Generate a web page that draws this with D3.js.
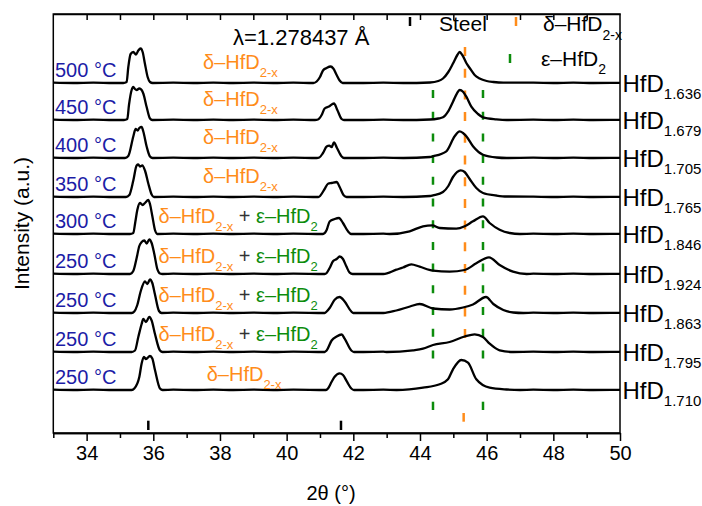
<!DOCTYPE html>
<html><head><meta charset="utf-8">
<script src="https://cdn.jsdelivr.net/npm/d3@7/dist/d3.min.js"></script>
<style>
html,body{margin:0;padding:0;background:#fff;}
svg{display:block;font-family:"Liberation Sans",Arial,sans-serif;}
text{white-space:pre;}
</style></head>
<body><svg id="c" width="702" height="506"></svg>
<script>
// ---------- data ----------
const temps = ["500 °C","450 °C","400 °C","350 °C","300 °C","250 °C","250 °C","250 °C","250 °C"];
const compositions = ["1.636","1.679","1.705","1.765","1.846","1.924","1.863","1.795","1.710"];
const phases = ["d","d","d","d","de","de","de","de","d"];
const offsets = [350, 313, 275, 236, 199, 159, 120, 81, 43];
const xTicksMajor = [34,36,38,40,42,44,46,48,50];
const xTicksMinor = [33,35,37,39,41,43,45,47,49];
const xTicksTop = [34,35,36,37,38,39,40,41,42,43,44,45,46,47,48,49];
const steelRefl = [35.85, 41.63];
const epsRefl = [44.39, 45.89];
const deltaRefl = [45.31];
const epsLines = [44.39, 45.89];
const deltaLines = [45.35];
const baseGrid = [[33,0.3],[33.6,0],[34.2,0.4],[34.8,0],[36.6,0.3],[37.2,0],[37.8,0.4],[38.4,0],[39.0,0.3],[39.6,0],[40.2,0.4],[42.3,0],[42.9,0.3],[43.5,0],[47.4,0.3],[48.0,0],[48.6,0.4],[49.2,0],[50,0.2]];

const t500 = [
 [[35.10,0],[35.20,1],[35.25,16],[35.32,29],[35.40,31],[35.48,28.5],[35.55,32.5],[35.62,34.5],[35.68,31],[35.75,19],[35.83,6],[35.90,1],[35.98,0]],
 [[40.80,0],[40.90,1.5],[41.00,6],[41.09,12.5],[41.20,15],[41.32,16.5],[41.40,14.5],[41.50,8],[41.59,2.5],[41.68,0]],
 [[44.30,0.5],[44.55,2],[44.69,4.5],[44.85,11],[44.99,19.5],[45.12,28],[45.19,31],[45.27,28],[45.39,20],[45.49,15],[45.64,8],[45.79,4.5],[46.0,2],[46.2,1],[46.5,0.3]]
];
const t450 = [
 [[35.12,0],[35.22,1],[35.27,15],[35.35,30],[35.40,33],[35.45,31],[35.50,30],[35.58,31.5],[35.65,30],[35.70,26.5],[35.80,13],[35.90,1.5],[35.97,0]],
 [[40.85,0],[40.94,0.5],[41.05,5],[41.14,11.5],[41.27,13.5],[41.42,16.5],[41.52,10],[41.65,1],[41.72,0]],
 [[44.30,0.5],[44.55,1.5],[44.69,2.7],[44.84,8.3],[44.99,18.3],[45.11,26.7],[45.19,30],[45.29,28.3],[45.39,23.3],[45.54,13.3],[45.74,6],[45.89,2.7],[46.29,0.7],[46.6,0]]
];
const t400 = [
 [[35.15,0],[35.25,2],[35.40,21.5],[35.47,29],[35.53,27.5],[35.58,30],[35.65,31],[35.70,26.5],[35.80,11.5],[35.90,1.5],[35.98,0]],
 [[40.90,0],[40.98,0.5],[41.09,5],[41.20,11.5],[41.28,12.3],[41.35,11],[41.42,15.5],[41.51,10],[41.65,1.5],[41.72,0]],
 [[44.30,1],[44.39,1.7],[44.79,6.7],[45.04,21.7],[45.19,26.7],[45.29,25],[45.39,21.7],[45.59,11.7],[45.89,3.3],[46.3,0.5],[46.6,0]]
];
const t350 = [
 [[35.18,0],[35.28,2],[35.40,16.5],[35.50,31.5],[35.55,32.5],[35.60,30.5],[35.67,31.5],[35.75,26.5],[35.85,13.5],[35.95,2.5],[36.02,0]],
 [[40.95,0],[41.14,8],[41.24,13.3],[41.35,14],[41.50,15],[41.59,10],[41.71,1.7],[41.80,0]],
 [[44.30,1],[44.39,1.7],[44.69,5],[44.85,11],[44.99,20],[45.22,26.7],[45.34,25],[45.49,18],[45.69,9],[45.89,4],[46.29,1.5],[46.6,0.5]]
];
const t300 = [
 [[35.30,0],[35.40,1],[35.46,12],[35.52,24],[35.60,31],[35.68,29],[35.75,31],[35.85,34],[35.90,30],[35.97,18],[36.05,4],[36.12,0]],
 [[41.09,0],[41.20,4],[41.29,12.5],[41.44,15],[41.57,16],[41.69,11],[41.84,2.7],[41.94,0]],
 [[43.09,0],[43.69,2.7],[44.09,7.7],[44.37,8.7],[44.59,6],[45.09,5.3],[45.34,7.7],[45.59,12.7],[45.89,17.7],[46.09,11],[46.39,4.3],[46.69,1],[47.0,0]]
];
const t250a = [
 [[35.30,0],[35.40,3],[35.50,16],[35.58,28],[35.65,32],[35.73,33.5],[35.80,30.5],[35.88,34.5],[35.95,31],[36.03,20],[36.12,5],[36.20,0.5],[36.28,0]],
 [[41.14,0],[41.20,1],[41.29,6],[41.39,12.7],[41.50,15],[41.59,17.5],[41.69,15],[41.79,7.7],[41.89,1.3],[41.98,0]],
 [[42.9,0],[43.29,4.3],[43.49,6.5],[43.74,9.7],[43.99,7.3],[44.39,3.3],[44.89,2.3],[45.34,4],[45.69,10.7],[46.07,16.7],[46.39,9],[46.79,2.3],[47.2,0]]
];
const t250b = [
 [[35.35,0],[35.43,1.5],[35.52,8],[35.62,21.5],[35.75,31.5],[35.82,29],[35.90,33.5],[35.97,30],[36.05,18.5],[36.17,2],[36.25,0]],
 [[41.14,0],[41.20,1.5],[41.29,5],[41.44,13.3],[41.59,16],[41.74,11.5],[41.94,1.5],[42.0,0]],
 [[42.9,0],[43.29,2.5],[43.7,6.5],[43.99,9],[44.39,4.5],[44.89,3.5],[45.29,5.5],[45.59,8.5],[45.98,16],[46.2,9],[46.5,3],[46.8,0.5],[47.1,0]]
];
const t250c = [
 [[35.35,0],[35.45,1.5],[35.55,15],[35.65,28],[35.70,33],[35.78,30],[35.88,35],[35.95,31.5],[36.05,18],[36.20,1.5],[36.28,0]],
 [[41.14,0],[41.20,1.5],[41.35,11.5],[41.50,15.5],[41.65,17.5],[41.74,13.3],[41.94,1.5],[42.02,0]],
 [[43.0,0],[43.79,1.7],[44.09,3.3],[44.39,7],[44.89,10],[45.34,15.5],[45.64,17.7],[45.89,15],[46.09,8.3],[46.39,1.7],[46.8,0]]
];
const t250d = [
 [[35.35,0],[35.43,1.5],[35.58,13],[35.65,26.5],[35.72,33],[35.78,31],[35.90,34],[35.97,31.5],[36.05,20],[36.20,1.5],[36.28,0]],
 [[41.18,0],[41.24,1.5],[41.35,8.3],[41.44,13.3],[41.59,16.7],[41.69,15],[41.81,8.3],[41.94,1.5],[42.02,0]],
 [[43.3,0],[44.09,2.3],[44.59,5.7],[44.84,10.7],[44.99,20.7],[45.24,30],[45.44,27.3],[45.69,10.7],[46.09,2.3],[46.6,0.5],[47.0,0]]
];
const traces = [t500,t450,t400,t350,t300,t250a,t250b,t250c,t250d];

// ---------- layout ----------
const BLUE="#1c1ca6", ORANGE="#ff8c1a", GREEN="#0c8c0c";
const svg = d3.select("#c");
const x = d3.scaleLinear().domain([33,50]).range([53.3,620]);
const y = d3.scaleLinear().domain([0,419]).range([433,14]);

function merge(segs){
  let pts = [];
  segs.forEach(s=>pts=pts.concat(s));
  baseGrid.forEach(g=>{
    const inside = segs.some(s=> g[0] >= s[0][0]-0.05 && g[0] <= s[s.length-1][0]+0.05);
    if(!inside) pts.push(g);
  });
  return pts.sort((a,b)=>a[0]-b[0]);
}

// frame
const g = svg.append("g");
g.append("rect").attr("x",x(33)).attr("y",y(419)).attr("width",x(50)-x(33)).attr("height",y(0)-y(419))
 .attr("fill","none").attr("stroke","#000").attr("stroke-width",1.5);

// axes
const axB = g.append("g").attr("transform",`translate(0,${y(0)})`)
 .call(d3.axisBottom(x).tickValues(xTicksMajor).tickSize(8).tickSizeOuter(0).tickPadding(5).tickFormat(d3.format("d")));
const axBm = g.append("g").attr("transform",`translate(0,${y(0)})`)
 .call(d3.axisBottom(x).tickValues(xTicksMinor).tickSize(5).tickSizeOuter(0).tickFormat(""));
const axT = g.append("g").attr("transform",`translate(0,${y(419)})`)
 .call(d3.axisTop(x).tickValues(xTicksTop).tickSize(-6).tickSizeOuter(0).tickFormat(""));
[axB,axBm,axT].forEach(a=>{
  a.select(".domain").attr("stroke","#000").attr("stroke-width",1.5);
  a.selectAll(".tick line").attr("stroke","#000").attr("stroke-width",1.5);
  a.selectAll(".tick text").attr("font-size",20).attr("fill","#000").attr("font-family","Liberation Sans, Arial, sans-serif");
});

// axis titles
svg.append("text").attr("x",331).attr("y",500).attr("text-anchor","middle").attr("font-size",20).text("2θ (°)");
svg.append("text").attr("transform",`translate(29,${(y(0)+y(419))/2}) rotate(-90)`).attr("text-anchor","middle").attr("font-size",21).text("Intensity (a.u.)");

// reference dashed lines
epsLines.forEach(v=>{
  g.append("line").attr("x1",x(v)).attr("x2",x(v)).attr("y1",y(343)).attr("y2",y(70))
   .attr("stroke",GREEN).attr("stroke-width",2.5).attr("stroke-dasharray","8,13.7");
});
deltaLines.forEach(v=>{
  g.append("line").attr("x1",x(v)).attr("x2",x(v)).attr("y1",y(386)).attr("y2",y(90))
   .attr("stroke",ORANGE).attr("stroke-width",2.5).attr("stroke-dasharray","9,12.7");
});
// reflection markers
steelRefl.forEach(v=>g.append("line").attr("x1",x(v)).attr("x2",x(v)).attr("y1",y(12.3)).attr("y2",y(3)).attr("stroke","#000").attr("stroke-width",2.5));
epsRefl.forEach(v=>g.append("line").attr("x1",x(v)).attr("x2",x(v)).attr("y1",y(31.3)).attr("y2",y(23)).attr("stroke",GREEN).attr("stroke-width",2.5));
deltaRefl.forEach(v=>g.append("line").attr("x1",x(v)).attr("x2",x(v)).attr("y1",y(20)).attr("y2",y(11.3)).attr("stroke",ORANGE).attr("stroke-width",2.5));

// traces
const line = d3.line().x(d=>x(d[0])).y(d=>y(d[1])).curve(d3.curveMonotoneX);
traces.forEach((segs,i)=>{
  const pts = merge(segs).map(p=>[p[0],p[1]+offsets[i]]);
  g.append("path").attr("d",line(pts)).attr("fill","none").attr("stroke","#000").attr("stroke-width",2.3).attr("stroke-linejoin","round");
});

// temperature labels
temps.forEach((t,i)=>{
  svg.append("text").attr("x",55).attr("y",y(offsets[i])-6.5).attr("font-size",20).attr("fill",BLUE).text(t);
});
// composition labels
compositions.forEach((c,i)=>{
  const tx = svg.append("text").attr("x",622.5).attr("y",y(offsets[i])+8.5).attr("font-size",24).attr("fill","#000");
  tx.append("tspan").text("HfD");
  tx.append("tspan").attr("font-size",15).attr("dy",7.6).text(c);
});
// phase labels
phases.forEach((p,i)=>{
  let px, py;
  if(p==="d"){ px = (i===8)?206.7:203; py = y(offsets[i]) - ((i===8)?9:14); }
  else { px = 158.5; py = y(offsets[i]) - 11; }
  const tx = svg.append("text").attr("x",px).attr("y",py).attr("font-size",20);
  tx.append("tspan").attr("fill",ORANGE).text("δ–HfD");
  tx.append("tspan").attr("fill",ORANGE).attr("font-size",13).attr("dy",8).text("2-x");
  if(p==="de"){
    tx.append("tspan").attr("fill","#333").attr("dy",-8).text(" + ");
    tx.append("tspan").attr("fill",GREEN).text("ε–HfD");
    tx.append("tspan").attr("fill",GREEN).attr("font-size",13).attr("dy",8).text("2");
  }
});

// legend
svg.append("text").attr("x",233).attr("y",45).attr("font-size",22).text("λ=1.278437 Å");
svg.append("line").attr("x1",410).attr("x2",410).attr("y1",17).attr("y2",26).attr("stroke","#000").attr("stroke-width",2.5);
svg.append("text").attr("x",439).attr("y",31).attr("font-size",21).text("Steel");
svg.append("line").attr("x1",516).attr("x2",516).attr("y1",17).attr("y2",26).attr("stroke",ORANGE).attr("stroke-width",2.5);
const ld = svg.append("text").attr("x",543).attr("y",31).attr("font-size",21).attr("fill","#000");
ld.append("tspan").text("δ–HfD"); ld.append("tspan").attr("font-size",14).attr("dy",9).text("2-x");
svg.append("line").attr("x1",510).attr("x2",510).attr("y1",54).attr("y2",63).attr("stroke",GREEN).attr("stroke-width",2.5);
const le = svg.append("text").attr("x",541).attr("y",66).attr("font-size",21).attr("fill","#000");
le.append("tspan").text("ε–HfD"); le.append("tspan").attr("font-size",14).attr("dy",8).text("2");
</script></body></html>
